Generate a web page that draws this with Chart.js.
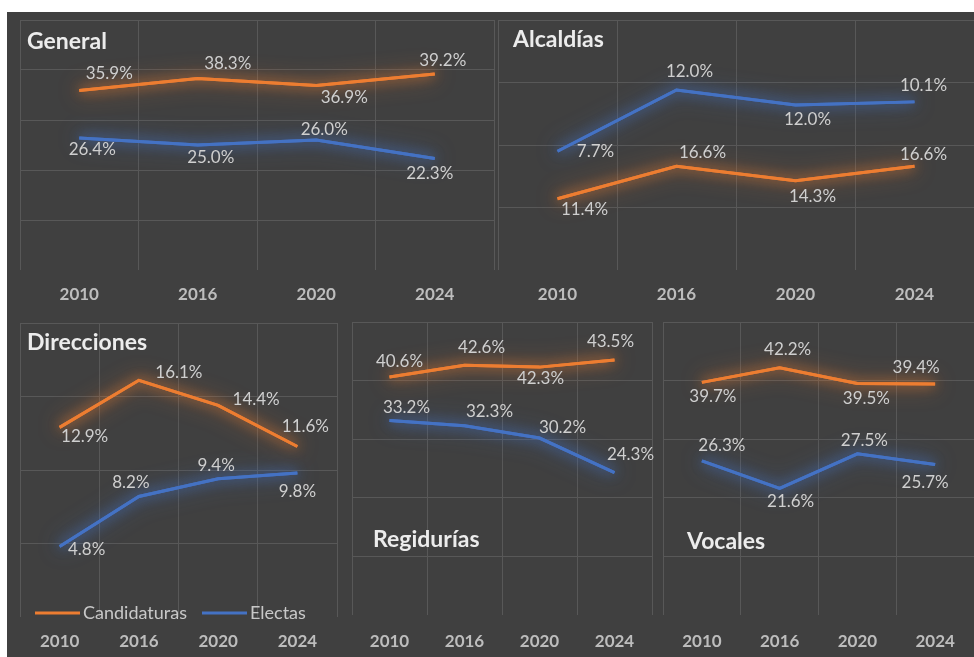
<!DOCTYPE html>
<html lang="es">
<head>
    <meta charset="UTF-8">
    <title>Candidaturas y electas</title>
    <style>
        body {
            margin: 0;
            background-color: #ffffff;
            width: 974px;
            height: 657px;
            overflow: hidden;
        }

        #frame {
            position: absolute;
            left: 7px;
            top: 12px;
            width: 967px;
            height: 645px;
            background-color: #404040;
        }

        canvas {
            position: absolute;
            left: 0;
            top: 0;
        }
    </style>
    <script src="https://cdn.jsdelivr.net/npm/chart.js"></script>
</head>
<body>

    <div id="frame"></div>
    <canvas id="cGeneral" width="974" height="657"></canvas>
    <canvas id="cAlcaldias" width="974" height="657"></canvas>
    <canvas id="cDirecciones" width="974" height="657"></canvas>
    <canvas id="cRegidurias" width="974" height="657"></canvas>
    <canvas id="cVocales" width="974" height="657"></canvas>

    <script>
        var years = ['2010', '2016', '2020', '2024'];
        var seriesNames = ['Candidaturas', 'Electas'];

        var generalCand = [35.9, 38.3, 36.9, 39.2];
        var generalElectas = [26.4, 25.0, 26.0, 22.3];

        var alcaldiasCand = [11.4, 16.6, 14.3, 16.6];
        // the printed labels of this line do not match its drawn heights,
        // so the heights are read off the grid and the labels kept as text
        var alcaldiasElectas = [19.0, 28.8, 26.4, 26.9];
        var alcaldiasElectasLabels = ['7.7%', '12.0%', '12.0%', '10.1%'];

        var direccionesCand = [12.9, 16.1, 14.4, 11.6];
        var direccionesElectas = [4.8, 8.2, 9.4, 9.8];

        var regiduriasCand = [40.6, 42.6, 42.3, 43.5];
        var regiduriasElectas = [33.2, 32.3, 30.2, 24.3];

        var vocalesCand = [39.7, 42.2, 39.5, 39.4];
        var vocalesElectas = [26.3, 21.6, 27.5, 25.7];

        var lineColors = ['#ED7D31', '#4472C4'];
        var glowColors = ['rgba(237, 125, 49, 0.95)', 'rgba(68, 114, 196, 1)'];
        var fontName = 'Lato, "Open Sans", sans-serif';

        // area = [left, top, right, bottom] of the plot, labelY = centre of year labels
        var panels = [
            {
                id: 'cGeneral', title: 'General', titleAt: [27, 42],
                area: [20, 20, 494, 270], labelY: 295, yMax: 50, yStep: 10,
                data: [generalCand, generalElectas], labels: [null, null],
                offsets: [[[30, -17], [30, -15], [28, 12], [8, -13]],
                          [[13, 12], [13, 13], [8, -10], [-5, 15]]]
            },
            {
                id: 'cAlcaldias', title: 'Alcaldías', titleAt: [513, 40],
                area: [498, 20, 975, 270], labelY: 295, yMax: 40, yStep: 10,
                data: [alcaldiasCand, alcaldiasElectas], labels: [null, alcaldiasElectasLabels],
                offsets: [[[27, 11], [26, -14], [17, 16], [9, -12]],
                          [[38, 0], [13, -18], [12, 15], [9, -16]]]
            },
            {
                id: 'cDirecciones', title: 'Direcciones', titleAt: [27, 343],
                area: [20, 323, 337, 617], labelY: 642, yMax: 20, yStep: 5,
                data: [direccionesCand, direccionesElectas], labels: [null, null],
                offsets: [[[25, 9], [40, -8], [38, -6], [8, -20]],
                          [[27, 3], [-8, -14], [-2, -13], [0, 19]]],
                legendY: 613
            },
            {
                id: 'cRegidurias', title: 'Regidurías', titleAt: [373, 540],
                area: [352, 322, 652, 615], labelY: 642, yMax: 50, yStep: 10,
                data: [regiduriasCand, regiduriasElectas], labels: [null, null],
                offsets: [[[10, -16], [17, -18], [1, 11], [-4, -19]],
                          [[17, -13], [25, -14], [23, -11], [16, -18]]]
            },
            {
                id: 'cVocales', title: 'Vocales', titleAt: [687, 542],
                area: [663, 322, 975, 615], labelY: 642, yMax: 50, yStep: 10,
                data: [vocalesCand, vocalesElectas], labels: [null, null],
                offsets: [[[11, 14], [8, -18], [9, 15], [-19, -17]],
                          [[20, -15], [11, 13], [7, -13], [-10, 18]]]
            }
        ];

        // soft halo round each line: the line is stroked twice with a shadow
        var glowPlugin = {
            id: 'glow',
            beforeDatasetDraw: function (chart, args) {
                var ctx = chart.ctx;
                ctx.save();
                ctx.shadowColor = glowColors[args.index];
                ctx.shadowBlur = 22;
                args.meta.dataset.draw(ctx, chart.chartArea);
                ctx.shadowBlur = 12;
            },
            afterDatasetDraw: function (chart) {
                chart.ctx.restore();
            }
        };

        var textPlugin = {
            id: 'panelText',
            afterDatasetsDraw: function (chart) {
                var p = chart.options.plugins.panelText;
                var ctx = chart.ctx;
                ctx.save();

                // data labels
                ctx.font = '17px ' + fontName;
                ctx.fillStyle = '#cfcfcf';
                ctx.textAlign = 'center';
                ctx.textBaseline = 'middle';
                chart.data.datasets.forEach(function (ds, i) {
                    var meta = chart.getDatasetMeta(i);
                    meta.data.forEach(function (pt, j) {
                        var text = p.labels[i] ? p.labels[i][j] : ds.data[j].toFixed(1) + '%';
                        ctx.fillText(text, pt.x + p.offsets[i][j][0], pt.y + p.offsets[i][j][1]);
                    });
                });

                // panel title
                ctx.font = 'bold 23px ' + fontName;
                ctx.fillStyle = '#ececec';
                ctx.textAlign = 'left';
                ctx.fillText(p.title, p.titleAt[0], p.titleAt[1]);

                // legend, only in one panel
                if (p.legendY) {
                    var y = p.legendY;
                    var items = [[35, 80, 83], [202, 247, 250]];
                    ctx.font = '18px ' + fontName;
                    ctx.lineWidth = 3;
                    items.forEach(function (it, i) {
                        ctx.strokeStyle = lineColors[i];
                        ctx.beginPath();
                        ctx.moveTo(it[0], y);
                        ctx.lineTo(it[1], y);
                        ctx.stroke();
                        ctx.fillStyle = '#c8c8c8';
                        ctx.fillText(seriesNames[i], it[2], y);
                    });
                }
                ctx.restore();
            }
        };

        function drawPanel(p) {
            var W = 974, H = 657, axisH = 40, tickSize = 17;
            var ctx = document.getElementById(p.id).getContext('2d');
            var datasets = p.data.map(function (values, i) {
                return {
                    label: seriesNames[i],
                    data: values,
                    borderColor: lineColors[i],
                    borderWidth: 3,
                    pointRadius: 0,
                    tension: 0,
                    fill: false
                };
            });

            new Chart(ctx, {
                type: 'line',
                data: { labels: years, datasets: datasets },
                options: {
                    responsive: false,
                    animation: false,
                    events: [],
                    layout: {
                        padding: {
                            left: p.area[0],
                            top: p.area[1],
                            right: W - p.area[2],
                            bottom: H - p.area[3] - axisH
                        }
                    },
                    scales: {
                        x: {
                            offset: true,
                            grid: { offset: true, color: '#585858', lineWidth: 1, drawTicks: false },
                            border: { display: false },
                            ticks: {
                                color: '#bdbdbd',
                                padding: p.labelY - p.area[3] - tickSize * 0.6,
                                font: { family: fontName, size: tickSize, weight: 'bold' },
                                maxRotation: 0
                            },
                            afterFit: function (s) { s.height = axisH; }
                        },
                        y: {
                            min: 0,
                            max: p.yMax,
                            grid: {
                                drawTicks: false,
                                color: function (c) {
                                    return c.tick && c.tick.value === 0 ? 'rgba(0,0,0,0)' : '#585858';
                                }
                            },
                            border: { display: false },
                            ticks: { display: false, stepSize: p.yStep },
                            afterFit: function (s) { s.width = 0; }
                        }
                    },
                    plugins: {
                        legend: { display: false },
                        tooltip: { enabled: false },
                        panelText: p
                    }
                },
                plugins: [glowPlugin, textPlugin]
            });
        }

        panels.forEach(drawPanel);
    </script>

</body>
</html>
